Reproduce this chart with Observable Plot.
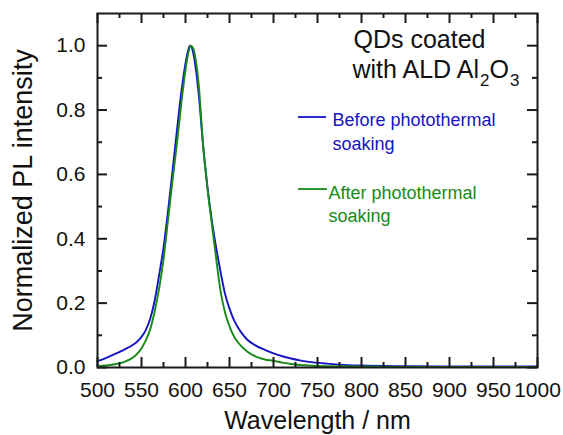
<!DOCTYPE html>
<html><head><meta charset="utf-8">
<script src="https://cdn.jsdelivr.net/npm/d3@7"></script>
<script src="https://cdn.jsdelivr.net/npm/@observablehq/plot@0.6"></script>
<style>body{margin:0;background:#fff}</style>
</head><body><div id="chart"></div>
<script>
// Before photothermal soaking (blue)
const beforeWl  = [500,510,520,530,540,545,550,555,560,565,570,575,580,585,590,595,600,603,605,607,610,615,620,625,630,635,640,645,650,655,660,665,670,680,690,700,710,720,730,745,760,780,800,850,900,950,1000];
const beforeVal = [0.020,0.030,0.042,0.055,0.070,0.080,0.095,0.117,0.152,0.208,0.287,0.372,0.482,0.605,0.730,0.850,0.945,0.985,1.000,0.995,0.960,0.850,0.690,0.560,0.455,0.370,0.295,0.228,0.183,0.148,0.123,0.103,0.087,0.068,0.055,0.044,0.035,0.028,0.022,0.016,0.012,0.008,0.006,0.004,0.003,0.003,0.003];
// After photothermal soaking (green)
const afterWl  = [500,510,520,530,540,545,550,555,560,565,570,575,580,585,590,595,600,603,606,609,612,615,620,625,630,635,640,645,650,655,660,665,670,680,690,700,710,720,740,760,800,850,900,950,1000];
const afterVal = [0.005,0.006,0.010,0.017,0.030,0.042,0.060,0.085,0.120,0.175,0.245,0.335,0.455,0.575,0.690,0.815,0.925,0.975,1.000,0.990,0.950,0.880,0.690,0.555,0.445,0.335,0.235,0.170,0.128,0.097,0.077,0.062,0.050,0.034,0.025,0.021,0.015,0.011,0.006,0.004,0.003,0.002,0.002,0.002,0.002];

const xMajor = [500,550,600,650,700,750,800,850,900,950,1000];
const xMinor = [525,575,625,675,725,775,825,875,925,975];
const yMajor = [0,0.2,0.4,0.6,0.8,1.0];
const yMinor = [0.1,0.3,0.5,0.7,0.9];
const xTickLabels = ["500","550","600","650","700","750","800","850","900","950","1000"];
const yTickLabels = ["0.0","0.2","0.4","0.6","0.8","1.0"];
const seriesNames = ["Before photothermal\nsoaking","After photothermal\nsoaking"];

const BLUE = "#1414c4", GREEN = "#178a17", AX = "#1a1a1a";
const beforeData = beforeWl.map((w,i)=>({wl:w, v:beforeVal[i]}));
const afterData = afterWl.map((w,i)=>({wl:w, v:afterVal[i]}));

const chart = Plot.plot({
  width:563, height:435,
  marginLeft:97, marginRight:26, marginTop:13, marginBottom:68,
  style:{fontFamily:"'Liberation Sans', Arial, sans-serif", background:"white", color:"#111"},
  x:{domain:[500,1000]},
  y:{domain:[0,1.1]},
  marks:[
    Plot.line(beforeData,{x:"wl", y:"v", stroke:BLUE, strokeWidth:1.9, curve:"monotone-x"}),
    Plot.line(afterData,{x:"wl", y:"v", stroke:GREEN, strokeWidth:1.9, curve:"monotone-x"}),
    Plot.ruleX(xMajor,{x:d=>d, y1:0, y2:0, insetBottom:10, stroke:AX, strokeWidth:2}),
    Plot.ruleX(xMinor,{x:d=>d, y1:0, y2:0, insetBottom:5, stroke:AX, strokeWidth:2}),
    Plot.ruleX(xMajor,{x:d=>d, y1:1.1, y2:1.1, insetBottom:-10, stroke:AX, strokeWidth:2}),
    Plot.ruleX(xMinor,{x:d=>d, y1:1.1, y2:1.1, insetBottom:-5, stroke:AX, strokeWidth:2}),
    Plot.ruleY(yMajor,{y:d=>d, x1:500, x2:500, insetRight:-10, stroke:AX, strokeWidth:2}),
    Plot.ruleY(yMinor,{y:d=>d, x1:500, x2:500, insetRight:-5, stroke:AX, strokeWidth:2}),
    Plot.ruleY(yMajor,{y:d=>d, x1:1000, x2:1000, insetRight:10, stroke:AX, strokeWidth:2}),
    Plot.ruleY(yMinor,{y:d=>d, x1:1000, x2:1000, insetRight:5, stroke:AX, strokeWidth:2}),
    Plot.frame({stroke:AX, strokeWidth:2}),
    Plot.axisX(xMajor,{tickSize:0, tickPadding:15, fontSize:21, label:null, tickFormat:d=>xTickLabels[xMajor.indexOf(d)]}),
    Plot.axisY(yMajor,{tickSize:0, tickPadding:12, fontSize:21, label:null, tickFormat:d=>yTickLabels[yMajor.indexOf(d)]}),
    Plot.text(["Wavelength / nm"],{frameAnchor:"bottom", dy:61, lineAnchor:"bottom", textAnchor:"middle", fontSize:25}),
    Plot.text(["Normalized PL intensity"],{frameAnchor:"left", dx:-74, rotate:-90, textAnchor:"middle", lineAnchor:"middle", fontSize:27}),
    Plot.text(["QDs coated"],{frameAnchor:"top-left", dx:256, dy:34, lineAnchor:"bottom", textAnchor:"start", fontSize:25}),
    Plot.text(["with ALD Al"],{frameAnchor:"top-left", dx:255, dy:64, lineAnchor:"bottom", textAnchor:"start", fontSize:25}),
    Plot.text([seriesNames[0]],{frameAnchor:"top-left", dx:235, dy:117, lineAnchor:"middle", textAnchor:"start", fontSize:18, lineHeight:1.33, fill:BLUE}),
    Plot.text([seriesNames[1]],{frameAnchor:"top-left", dx:231, dy:190, lineAnchor:"middle", textAnchor:"start", fontSize:18, lineHeight:1.28, fill:GREEN})
  ]
});
document.getElementById("chart").appendChild(chart);

// subscripts for Al2O3
const svg = d3.select(chart);
svg.selectAll("text").filter(function(){return this.textContent === "with ALD Al";}).each(function(){
  const t = d3.select(this);
  t.append("tspan").attr("font-size",17).attr("dx",1).attr("dy",8).text("2");
  t.append("tspan").attr("font-size",25).attr("dy",-8).text("O");
  t.append("tspan").attr("font-size",17).attr("dx",1).attr("dy",8).text("3");
});
// legend keys
svg.append("line").attr("x1",298).attr("x2",326).attr("y1",117).attr("y2",117).attr("stroke",BLUE).attr("stroke-width",1.8);
svg.append("line").attr("x1",298).attr("x2",327).attr("y1",189).attr("y2",189).attr("stroke",GREEN).attr("stroke-width",1.8);
</script>
</body></html>
